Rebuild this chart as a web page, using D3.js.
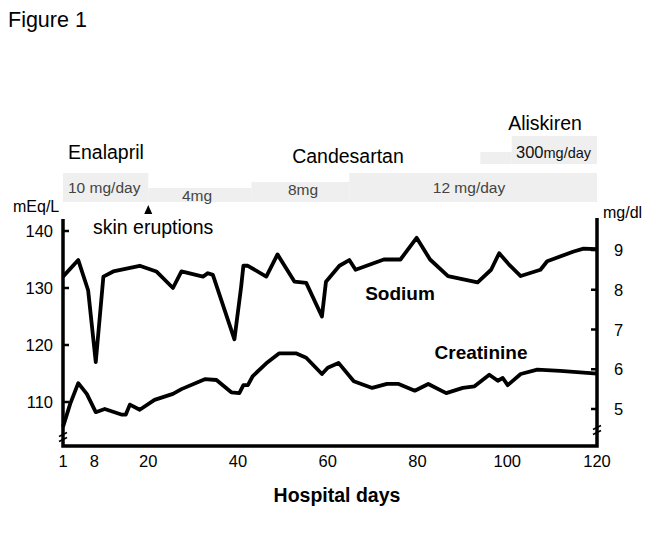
<!DOCTYPE html>
<html><head><meta charset="utf-8">
<script src="https://cdn.jsdelivr.net/npm/d3@7"></script>
<style>body{margin:0;background:#fff}svg{display:block;font-family:"Liberation Sans",Arial,sans-serif}</style>
</head><body><svg id="c" width="661" height="551"></svg>
<script>
const sodiumDays = [1,4.4,6.6,8.3,10,12.2,18.1,21.8,25.5,27.4,32.2,33.3,34.4,39.2,40.7,41.2,42.2,46.3,48.8,52.6,55.2,58.7,59.6,62.6,64.8,66.2,72.5,76.2,79.8,82.8,86.8,93.4,96.4,98.2,100.4,103,107.4,108.9,114.8,117,120];
const sodiumValues = [132,134.9,129.6,117,132,132.9,133.9,132.9,130,132.9,132,132.6,132.3,121,130.2,133.9,133.9,132,135.9,131.1,130.9,125,131.1,133.9,134.9,133.2,135,135,138.8,135,132.1,131,133.2,136.1,134.1,132.1,133.2,134.7,136.4,136.9,136.8];
const creatDays = [1,2.6,4.4,6.3,8.3,10.3,14,15,15.9,18.1,21.4,25.5,27.4,32.6,35.2,38.5,40.3,41.2,42.2,43.3,46.3,49.2,52.9,55.2,58.7,60,62.4,65.8,69.9,73.2,75.8,79.4,82.4,86.4,90.1,92.7,96,97.9,99,100.1,103,106.7,111.8,120];
const creatValues = [4.55,5.13,5.65,5.38,4.92,5.0,4.86,4.86,5.11,4.98,5.23,5.38,5.5,5.75,5.73,5.42,5.4,5.6,5.6,5.83,6.15,6.4,6.4,6.29,5.88,6.04,6.16,5.7,5.53,5.63,5.63,5.46,5.63,5.4,5.53,5.57,5.86,5.71,5.78,5.6,5.88,5.99,5.96,5.89];
const xTicks = [1,8,20,40,60,80,100,120];
const leftTicks = [110,120,130,140];
const rightTicks = [5,6,7,8,9];
// dosing periods: [startDay, endDay, level, label]
const candDoses = [[1,20,"high","10 mg/day"],[20,43,"low","4mg"],[43,64.8,"mid","8mg"],[64.8,120,"high","12 mg/day"]];
const aliskDoses = [[94,101,"low",""],[101,120,"high","300mg/day"]];
const drugNames = ["Enalapril","Candesartan","Aliskiren"];

const svg = d3.select("#c");
const x = d3.scaleLinear().domain([1,120]).range([63,597]);
const yL = d3.scaleLinear().domain([110,140]).range([402,231]);
const yR = d3.scaleLinear().domain([5,9]).range([409,250]);
const axisBottomY = 446;

svg.append("text").attr("x",8).attr("y",27).attr("font-size",21.5).text("Figure 1");

// dosing boxes
const candTop = {high:173, mid:182, low:188};
const candBottom = 202;
const boxFill = "#efefef";
candDoses.forEach(d=>{
  svg.append("rect").attr("x",x(d[0])).attr("y",candTop[d[2]]).attr("width",x(d[1])-x(d[0])).attr("height",candBottom-candTop[d[2]]).attr("fill",boxFill);
});
const alTop = {high:136, low:152};
aliskDoses.forEach(d=>{
  svg.append("rect").attr("x",x(d[0])).attr("y",alTop[d[2]]).attr("width",x(d[1])-x(d[0])).attr("height",164-alTop[d[2]]).attr("fill",boxFill);
});
const doseText = (t,xx,yy,anchor)=>svg.append("text").attr("x",xx).attr("y",yy).attr("font-size",15.5).attr("fill","#444").attr("text-anchor",anchor||"start").text(t);
doseText(candDoses[0][3],x(1)+5,193);
doseText(candDoses[1][3],197,201,"middle");
doseText(candDoses[2][3],303,195,"middle");
doseText(candDoses[3][3],469,193,"middle");
const al = svg.append("text").attr("x",516).attr("y",158).attr("fill","#111");
al.append("tspan").attr("font-size",16.5).text("300");
al.append("tspan").attr("font-size",14.5).text("mg/day");

svg.append("text").attr("x",68).attr("y",159).attr("font-size",19.5).text(drugNames[0]);
svg.append("text").attr("x",348).attr("y",163).attr("font-size",19.5).attr("text-anchor","middle").text(drugNames[1]);
svg.append("text").attr("x",545).attr("y",130).attr("font-size",19.5).attr("text-anchor","middle").text(drugNames[2]);

// units
svg.append("text").attr("x",13).attr("y",212).attr("font-size",16).text("mEq/L");
svg.append("text").attr("x",603).attr("y",218).attr("font-size",16).text("mg/dl");

// skin eruptions marker
const tx = x(20);
svg.append("path").attr("d",`M${tx-4},214 L${tx+4},214 L${tx},205 Z`).attr("fill","#000");
svg.append("text").attr("x",93).attr("y",234).attr("font-size",19.5).text("skin eruptions");

// axes lines
const ax = svg.append("g").attr("stroke","#000").attr("stroke-width",3.5).attr("fill","none");
ax.append("path").attr("d",`M${x(1)},219 V${axisBottomY} H${x(120)} V218`);
leftTicks.forEach(t=>ax.append("line").attr("x1",x(1)).attr("x2",x(1)+6).attr("y1",yL(t)).attr("y2",yL(t)).attr("stroke-width",2.5));
rightTicks.forEach(t=>ax.append("line").attr("x1",x(120)-6).attr("x2",x(120)).attr("y1",yR(t)).attr("y2",yR(t)).attr("stroke-width",2.5));
// break marks
function brk(cx,cy){
  [-2.5,2.5].forEach(o=>svg.append("line").attr("x1",cx-4).attr("x2",cx+4).attr("y1",cy+o+2).attr("y2",cy+o-2).attr("stroke","#000").attr("stroke-width",1.8));
}
brk(x(1),437);
brk(x(120),430);

// tick labels
const tl = svg.append("g").attr("font-size",16.5);
leftTicks.forEach(t=>tl.append("text").attr("x",53).attr("y",yL(t)+6).attr("text-anchor","end").text(t));
rightTicks.forEach(t=>tl.append("text").attr("x",614).attr("y",yR(t)+6).text(t));
xTicks.forEach(t=>tl.append("text").attr("x",x(t)).attr("y",467).attr("text-anchor","middle").text(t));

svg.append("text").attr("x",337).attr("y",502).attr("font-size",19.5).attr("font-weight","bold").attr("text-anchor","middle").text("Hospital days");

// lines
const lineL = d3.line().x((d,i)=>x(sodiumDays[i])).y(d=>yL(d));
const lineR = d3.line().x((d,i)=>x(creatDays[i])).y(d=>yR(d));
svg.append("path").attr("d",lineL(sodiumValues)).attr("fill","none").attr("stroke","#000").attr("stroke-width",3.8).attr("stroke-linejoin","round");
svg.append("path").attr("d",lineR(creatValues)).attr("fill","none").attr("stroke","#000").attr("stroke-width",3.8).attr("stroke-linejoin","round");

svg.append("text").attr("x",400).attr("y",300).attr("font-size",19).attr("font-weight","bold").attr("text-anchor","middle").text("Sodium");
svg.append("text").attr("x",481).attr("y",359).attr("font-size",19).attr("font-weight","bold").attr("text-anchor","middle").text("Creatinine");
</script></body></html>
